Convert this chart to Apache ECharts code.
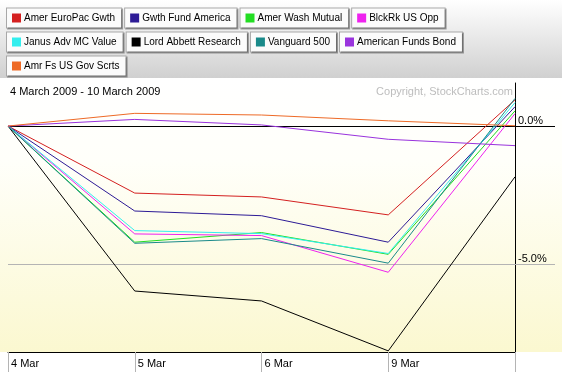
<!DOCTYPE html>
<html><head><meta charset="utf-8">
<script src="https://cdn.jsdelivr.net/npm/echarts@6/dist/echarts.min.js"></script>
<style>html,body{margin:0;padding:0;background:#fff}#c{width:562px;height:378px}</style>
</head><body><div id="c"></div>
<script>
// ---- data ----
const categories = ['4 Mar', '5 Mar', '6 Mar', '9 Mar', '10 Mar'];
const seriesNames = ['Amer EuroPac Gwth', 'Gwth Fund America', 'Amer Wash Mutual', 'BlckRk US Opp',
  'Janus Adv MC Value', 'Lord Abbett Research', 'Vanguard 500', 'American Funds Bond', 'Amr Fs US Gov Scrts'];
const seriesColors = ['#d42020', '#2d1b96', '#22dd22', '#ee22ee', '#33eeee', '#000000', '#1a8a8a', '#9933dd', '#ee6a26'];
const amerEuroPac = [0, -2.43, -2.57, -3.22, 0.95];
const gwthFundAmerica = [0, -3.08, -3.25, -4.21, 0.70];
const amerWashMutual = [0, -4.21, -3.86, -4.65, 0.55];
const blckRkUsOpp = [0, -3.91, -3.97, -5.30, 0.45];
const janusAdvMcValue = [0, -3.79, -3.90, -4.62, 0.85];
const lordAbbettResearch = [0, -5.98, -6.34, -8.15, -1.84];
const vanguard500 = [0, -4.25, -4.08, -4.97, 1.00];
const americanFundsBond = [0, 0.24, 0.04, -0.48, -0.71];
const amrFsUsGovScrts = [0, 0.46, 0.40, 0.19, 0.01];
const seriesValues = [amerEuroPac, gwthFundAmerica, amerWashMutual, blckRkUsOpp, janusAdvMcValue,
  lordAbbettResearch, vanguard500, americanFundsBond, amrFsUsGovScrts];
const zeroTick = [0];
const zeroTickLabel = '0.0%';
const fiveTick = [-5];
const fiveTickLabel = '-5.0%';
const yMin = -8.19, yMax = 1.56;
const titleText = '4 March 2009 - 10 March 2009';
const copyrightText = 'Copyright, StockCharts.com';

// ---- chart ----
const FONT = 'Liberation Sans';
const rich = { t: { fontFamily: FONT, fontSize: 10, lineHeight: 13, color: '#000', padding: [0, 0, 0, 3], verticalAlign: 'middle' } };
seriesColors.forEach((c, i) => { rich['i' + i] = { backgroundColor: c, width: 9, height: 9, verticalAlign: 'middle' }; });

const chart = echarts.init(document.getElementById('c'), null, { renderer: 'canvas' });
const yBase = {
  type: 'value', position: 'right', min: yMin, max: yMax,
  splitArea: { show: false }
};
chart.setOption({
  animation: false,
  backgroundColor: '#ffffff',
  graphic: [
    { type: 'rect', z: -10, silent: true, shape: { x: 0, y: 0, width: 562, height: 78 },
      style: { fill: new echarts.graphic.LinearGradient(0, 0, 0, 1, [{ offset: 0, color: '#ffffff' }, { offset: 1, color: '#d0d0d0' }]) } },
    { type: 'rect', z: -10, silent: true, shape: { x: 0, y: 78, width: 562, height: 274 },
      style: { fill: new echarts.graphic.LinearGradient(0, 0, 0, 1, [{ offset: 0, color: '#ffffff' }, { offset: 0.3, color: '#fffffa' }, { offset: 1, color: '#fbf8d0' }]) } }
  ],
  title: [
    { text: titleText, left: 10, top: 86, padding: 0, textStyle: { fontFamily: FONT, fontSize: 11, fontWeight: 'normal', color: '#000' } },
    { text: copyrightText, right: 49, top: 86, padding: 0, textStyle: { fontFamily: FONT, fontSize: 11, fontWeight: 'normal', color: '#bdbdbd' } }
  ],
  legend: {
    data: seriesNames, left: 2, top: 5, width: 470, padding: 0,
    itemWidth: 0, itemHeight: 26, itemGap: -2, icon: 'rect', selectedMode: false,
    formatter: name => '{i' + seriesNames.indexOf(name) + '|}{t|' + name + '}',
    textStyle: {
      fontFamily: FONT, fontSize: 10, color: '#000', lineHeight: 13,
      backgroundColor: '#fbfbfb', borderColor: '#a8a8a8', borderWidth: 1,
      padding: [3, 6, 3, 5],
      shadowColor: 'rgba(0,0,0,0.35)', shadowOffsetX: 1, shadowOffsetY: 1, shadowBlur: 0,
      rich: rich
    }
  },
  grid: { left: 8, right: 47, top: 83, bottom: 26, show: false },
  xAxis: {
    type: 'category', data: categories, boundaryGap: false,
    axisLine: { onZero: false, lineStyle: { color: '#000', width: 1 } },
    axisTick: { show: true, length: 20, lineStyle: { color: '#b4b4b4' } },
    axisLabel: {
      fontFamily: FONT, fontSize: 11, color: '#000', align: 'left', margin: 6, padding: [0, 0, 0, 3],
      formatter: (v, i) => (i === categories.length - 1 ? '' : v)
    },
    splitLine: { show: false }
  },
  yAxis: [
    Object.assign({}, yBase, {
      axisLine: { show: true, lineStyle: { color: '#000', width: 1 } },
      axisTick: { show: true, customValues: zeroTick, length: 40, lineStyle: { color: '#000' } },
      axisLabel: { customValues: zeroTick, formatter: () => zeroTickLabel, fontFamily: FONT, fontSize: 11, color: '#000', margin: 3, verticalAlign: 'bottom' },
      splitLine: { show: true, lineStyle: { color: '#000', width: 1 } }
    }),
    Object.assign({}, yBase, {
      axisLine: { show: false },
      axisTick: { show: true, customValues: fiveTick, length: 40, lineStyle: { color: '#b4b4b4' } },
      axisLabel: { customValues: fiveTick, formatter: () => fiveTickLabel, fontFamily: FONT, fontSize: 11, color: '#000', margin: 3, verticalAlign: 'bottom' },
      splitLine: { show: true, lineStyle: { color: '#b4b4b4', width: 1 } }
    })
  ],
  series: seriesNames.map((name, i) => ({
    name: name, type: 'line', data: seriesValues[i], yAxisIndex: 0,
    symbol: 'none', smooth: false, color: seriesColors[i],
    lineStyle: { width: 1, color: seriesColors[i] }, z: 3
  }))
});
</script>
</body></html>
